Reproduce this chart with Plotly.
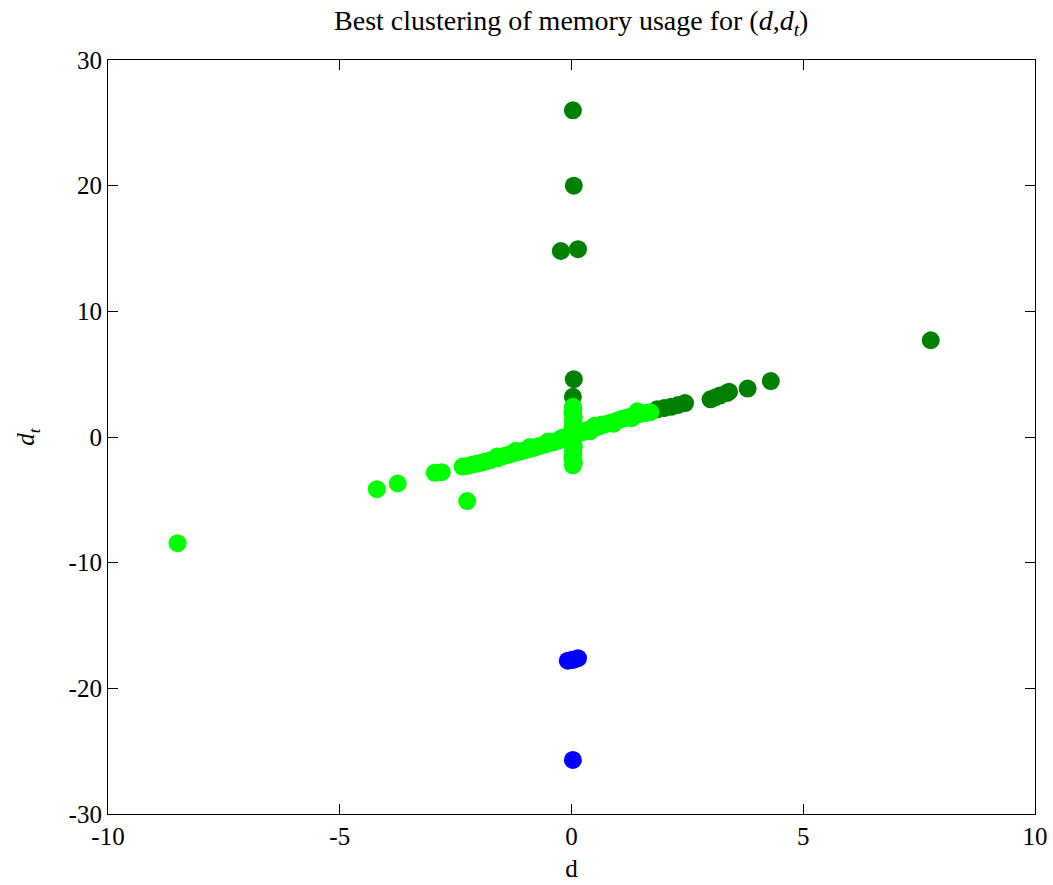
import plotly.graph_objects as go

# Cluster 1 (bright green): main diagonal band, vertical arm and outliers
c1_d = [-8.5, -4.2, -3.75, -2.95, -2.8, -2.25,
        -2.35, -2.25, -2.15, -2.05, -1.95, -1.85, -1.75, -1.6, -1.5, -1.4,
        -1.3, -1.2, -1.1, -1.0, -0.9, -0.8, -0.7, -0.6, -0.5, -0.4, -0.3,
        -0.2, -0.1, -1.6, -0.9, -0.2, -1.2, -0.5, 0.0,
        0.1, 0.2, 0.3, 0.4, 0.5, 0.6, 0.7, 0.8, 0.9, 1.0, 1.1, 1.2, 1.3,
        1.4, 1.5, 1.6, 1.7, 1.42, 0.5, 0.9, 1.3, 0.25, 0.4, 0.65,
        0.03, 0.05, 0.02, 0.04, 0.03, 0.05, 0.02, 0.04, 0.03, 0.05, 0.02,
        0.04, 0.03, 0.05, 0.02, 0.04, 0.03]
c1_dt = [-8.45, -4.15, -3.7, -2.85, -2.8, -5.1,
         -2.35, -2.3, -2.2, -2.12, -2.05, -1.95, -1.85, -1.7, -1.55, -1.45,
         -1.35, -1.25, -1.15, -1.05, -0.95, -0.85, -0.72, -0.62, -0.5, -0.42,
         -0.3, -0.2, -0.1, -1.55, -0.8, -0.05, -1.1, -0.35, 0.15,
         0.2, 0.35, 0.5, 0.62, 0.75, 0.85, 0.98, 1.1, 1.2, 1.33, 1.45, 1.55,
         1.65, 1.8, 1.85, 1.9, 1.97, 2.05, 0.9, 1.05, 1.5, 0.4, 0.45, 1.0,
         -2.25, -2.0, -1.7, -1.4, -1.1, -0.8, -0.5, -0.2, 0.1, 0.4, 0.7,
         1.0, 1.3, 1.6, 1.9, 2.2, 2.4]

# Cluster 2 (dark green): upper spikes and the upper end of the band
c2_d = [0.03, 0.05, -0.23, 0.14, 7.75, 0.05, 0.03,
        1.85, 2.0, 2.15, 2.3, 2.45, 3.0, 3.1, 3.2, 3.35, 3.4, 3.8, 4.3]
c2_dt = [26.0, 20.0, 14.8, 14.95, 7.7, 4.6, 3.2,
         2.2, 2.3, 2.4, 2.55, 2.7, 3.0, 3.15, 3.3, 3.5, 3.6, 3.85, 4.45]

# Cluster 3 (blue): lower spikes
c3_d = [-0.08, 0.0, 0.06, 0.14, 0.03]
c3_dt = [-17.8, -17.75, -17.7, -17.6, -25.7]

x_ticks = [-10, -5, 0, 5, 10]
y_ticks = [-30, -20, -10, 0, 10, 20, 30]

FONT = "Liberation Serif"
MSIZE = 18

fig = go.Figure()
for xs, ys, col in [(c2_d, c2_dt, "rgb(0,128,0)"),
                    (c1_d, c1_dt, "rgb(0,255,0)"),
                    (c3_d, c3_dt, "rgb(0,0,255)")]:
    fig.add_trace(go.Scatter(
        x=xs, y=ys, mode="markers",
        marker=dict(size=MSIZE, color=col, line=dict(width=0)),
        showlegend=False, hoverinfo="x+y"))

axis_common = dict(
    showgrid=False, zeroline=False, showline=True, linecolor="black",
    linewidth=1.2, mirror="ticks", ticks="inside", ticklen=10,
    tickwidth=1, tickcolor="black", automargin=False,
    tickfont=dict(family=FONT, size=25, color="black"),
)

fig.update_xaxes(range=[-10, 10], tickvals=x_ticks,
                 ticktext=[str(v) for v in x_ticks],
                 title=dict(text="d", font=dict(family=FONT, size=25, color="black"),
                            standoff=10),
                 **axis_common)
fig.update_yaxes(range=[-30, 30], tickvals=y_ticks,
                 ticktext=[str(v) for v in y_ticks],
                 title=dict(text="<i>d</i><sub><i>t</i></sub>",
                            font=dict(family=FONT, size=25, color="black"),
                            standoff=26),
                 **axis_common)

fig.update_layout(
    width=1053, height=885,
    margin=dict(l=108, r=18, t=60, b=71),
    paper_bgcolor="white", plot_bgcolor="white",
    title=dict(text="Best clustering of memory usage for (<i>d</i>,<i>d</i><sub><i>t</i></sub>)",
               x=0.5425, xanchor="center", y=0.988, yanchor="top",
               font=dict(family=FONT, size=28, color="black")),
)

fig.write_html("out.html")
